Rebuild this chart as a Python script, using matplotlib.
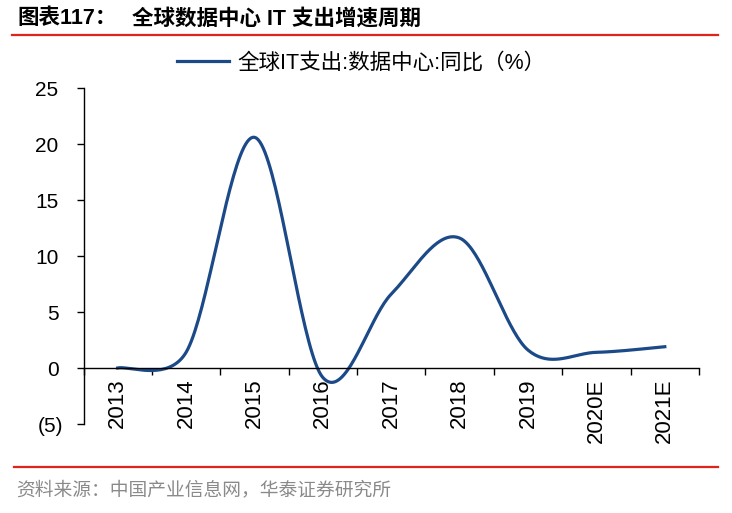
import numpy as np
import matplotlib.pyplot as plt
from matplotlib.lines import Line2D
from matplotlib.ticker import FuncFormatter
from matplotlib.transforms import ScaledTranslation

years = ['2013', '2014', '2015', '2016', '2017', '2018', '2019', '2020E', '2021E']
growth = [0.0, 1.4, 20.6, -0.85, 6.6, 11.6, 1.6, 1.4, 1.9]
yticks = [-5, 0, 5, 10, 15, 20, 25]

series_name = '全球IT支出:数据中心:同比（%）'
title_no = '图表117：'
title_txt = '全球数据中心 IT 支出增速周期'
source = '资料来源：中国产业信息网，华泰证券研究所'

cjk = ['Liberation Sans', 'Noto Sans CJK SC']
blue = '#1c4a88'
red = '#e2231c'


def smooth_curve(pts, n=40):
    # excel style smoothed line: bezier pieces, handles capped at half a segment
    pts = np.asarray(pts, float)
    out = [pts[:1]]
    m = len(pts)
    for i in range(m - 1):
        p0 = pts[i - 1] if i > 0 else pts[i]
        p1, p2 = pts[i], pts[i + 1]
        p3 = pts[i + 2] if i + 2 < m else pts[i + 1]
        d12 = np.hypot(*(p2 - p1))
        d02 = np.hypot(*(p2 - p0))
        d13 = np.hypot(*(p3 - p1))
        f1 = 1 / 6 if d02 / 6 < d12 / 2 else d12 / (2 * d02)
        f2 = 1 / 6 if d13 / 6 < d12 / 2 else d12 / (2 * d13)
        c1 = p1 + (p2 - p0) * f1
        c2 = p2 - (p3 - p1) * f2
        t = np.linspace(0, 1, n)[1:, None]
        seg = (1 - t)**3 * p1 + 3 * (1 - t)**2 * t * c1 + 3 * (1 - t) * t**2 * c2 + t**3 * p2
        out.append(seg)
    return np.vstack(out)


fig = plt.figure(figsize=(7.32, 5.13), dpi=100)
ax = fig.add_axes([83.5 / 732, 1 - 424 / 513, (699 - 83.5) / 732, 336 / 513])
ax.set_xlim(-0.5, len(years) - 0.5)
ax.set_ylim(-5, 25)

x = np.arange(len(years))
disp = ax.transData.transform(np.column_stack([x, growth]))
curve = ax.transData.inverted().transform(smooth_curve(disp))
ax.plot(curve[:, 0], curve[:, 1], color=blue, lw=2.3, label=series_name)

for s in ['top', 'right']:
    ax.spines[s].set_visible(False)
ax.spines['bottom'].set_position(('data', 0))
ax.spines['left'].set_linewidth(1)
ax.spines['bottom'].set_linewidth(1)

# ticks between categories, labels at category centres
ax.set_xticks(np.arange(-0.5, len(years), 1))
ax.set_xticks(x, minor=True)
ax.set_xticklabels(years, minor=True, rotation=90, fontsize=16, family='Liberation Sans')
ax.tick_params(axis='x', which='major', direction='out', length=5, width=1, labelbottom=False)
ax.tick_params(axis='x', which='minor', length=0, pad=7.5)

ax.set_yticks(yticks)
ax.yaxis.set_major_formatter(FuncFormatter(lambda v, p: f'({-v:.0f})' if v < 0 else f'{v:.0f}'))
ax.tick_params(axis='y', direction='out', length=5, width=1, pad=13, labelsize=15)
for lab in ax.get_yticklabels():
    lab.set_family('Liberation Sans')
# negative label sticks out by its closing bracket
neg = ax.yaxis.get_major_ticks()[0].label1
neg.set_transform(neg.get_transform() + ScaledTranslation(5 / 100, 0, fig.dpi_scale_trans))

ax.legend(loc='center', bbox_to_anchor=(361.5 / 732, 1 - 63 / 513), bbox_transform=fig.transFigure,
          frameon=False, handlelength=2.4, handletextpad=0.4, borderpad=0,
          prop={'family': cjk, 'size': 15.5})

fig.text(17 / 732, 1 - 19 / 513, title_no, fontsize=15.5, weight='bold', va='center', family=cjk)
fig.text(132 / 732, 1 - 19 / 513, title_txt, fontsize=15.5, weight='bold', va='center', family=cjk)
fig.add_artist(Line2D([12 / 732, 718 / 732], [1 - 35 / 513] * 2, color=red, lw=1.6))
fig.add_artist(Line2D([14 / 732, 718 / 732], [1 - 467 / 513] * 2, color=red, lw=1.6))
fig.text(16 / 732, 1 - 490 / 513, source, fontsize=13.5, color='#8a8a8a', va='center',
         family=['Noto Sans CJK SC'])

plt.savefig('out.png', dpi=100)
